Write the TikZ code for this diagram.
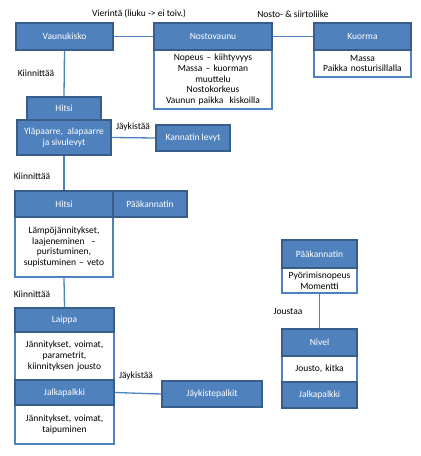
\documentclass[tikz,border=0pt]{standalone}
\usepackage{fontspec}
\setmainfont{Carlito}
\definecolor{hblue}{HTML}{4F81BD}
\definecolor{hborder}{HTML}{385D8A}
\begin{document}
\begin{tikzpicture}[x=1pt,y=-1pt,
  every node/.style={font=\fontsize{9.5}{10.8}\selectfont, inner sep=0pt, align=center},
  hdr/.style={fill=hblue, draw=hborder, line width=1.3pt, text=white, minimum width=#1},
  hdr/.default=97pt,
  bodybox/.style={fill=white, draw=hblue, line width=1.3pt, text=black, minimum width=#1, text width=#1-4pt},
  conn/.style={draw=hblue, line width=1.3pt},
  lbl/.style={text=black}]
\useasboundingbox (0,0) rectangle (421,456);
% top row
\node[hdr=97pt, minimum height=27pt] (vaunukisko) at (64.5,36.5) {Vaunukisko};
\node[bodybox=118pt, minimum height=59pt] (nvbody) at (213,79.5) {Nopeus -- kiihtyvyys\\Massa -- kuorman\\muuttelu\\Nostokorkeus\\Vaunun paikka\ \ kiskoilla};
\node[hdr=118pt, minimum height=27pt] (nostovaunu) at (213,36.5) {Nostovaunu};
\node[bodybox=97pt, minimum height=27pt] (kuormabody) at (362.5,63.5) {Massa\\Paikka nosturisillalla};
\node[hdr=97pt, minimum height=27pt] (kuorma) at (362.5,36.5) {Kuorma};
% Hitsi / Yläpaarre
\node[hdr=74pt, minimum height=23pt] (hitsi1) at (64,108.5) {Hitsi};
\node[hdr=94pt, minimum height=35pt] (ylapaarre) at (64,137.5) {Yläpaarre,\ \ alapaarre\\ja sivulevyt};
\node[hdr=74pt, minimum height=26pt] (kannatin) at (193,138) {Kannatin levyt};
% Hitsi big
\node[bodybox=98pt, minimum height=60pt] (hitsibody) at (64,247) {Lämpöjännitykset,\\laajeneminen\ \ --\\puristuminen,\\supistuminen -- veto};
\node[hdr=98pt, minimum height=26pt] (hitsi2) at (64,204) {Hitsi};
\node[hdr=74pt, minimum height=26pt] (paakannatin1) at (150,204) {Pääkannatin};
% Laippa / Jalkapalkki
\node[bodybox=99pt, minimum height=48pt] (laippabody) at (64.5,356) {Jännitykset,\ voimat,\\parametrit,\\kiinnityksen jousto};
\node[hdr=99pt, minimum height=24pt] (laippa) at (64.5,320) {Laippa};
\node[bodybox=99pt, minimum height=39pt] (jalkabody) at (64.5,424.5) {Jännitykset,\ voimat,\\taipuminen};
\node[hdr=99pt, minimum height=25pt] (jalkapalkki1) at (64.5,392.5) {Jalkapalkki};
\node[hdr=100pt, minimum height=26pt] (jaykistepalkit) at (212,394) {Jäykistepalkit};
% right column
\node[bodybox=75pt, minimum height=25pt] (paakbody) at (319.5,280.5) {Pyörimisnopeus\\Momentti};
\node[hdr=75pt, minimum height=28pt] (paakannatin2) at (319.5,254) {Pääkannatin};
\node[bodybox=75pt, minimum height=26pt] (nivelbody) at (319.5,369) {Jousto, kitka};
\node[hdr=75pt, minimum height=27pt] (nivel) at (319.5,342.5) {Nivel};
\node[hdr=75pt, minimum height=26pt] (jalkapalkki2) at (319.5,395) {Jalkapalkki};
% connectors
\draw[conn] (vaunukisko.east) -- (nostovaunu.west);
\draw[conn] (nostovaunu.east) -- (kuorma.west);
\draw[conn] (vaunukisko.south) -- (hitsi1.north);
\draw[conn] (ylapaarre.east) -- (kannatin.west);
\draw[conn] (ylapaarre.south) -- (hitsi2.north);
\draw[conn] (hitsibody.south) -- (laippa.north);
\draw[conn] (jalkapalkki1.east) -- (jaykistepalkit.west);
\draw[conn] (paakbody.south) -- (nivel.north);
% labels
\node[lbl] (l1) at (139,14) {Vierintä (liuku -> ei toiv.)};
\node[lbl] (l2) at (293,14) {Nosto-\ \& siirtoliike};
\node[lbl] (l3) at (36,73) {Kiinnittää};
\node[lbl] (l4) at (133,127) {Jäykistää};
\node[lbl] (l5) at (32,176) {Kiinnittää};
\node[lbl] (l6) at (32,294) {Kiinnittää};
\node[lbl] (l7) at (136,376) {Jäykistää};
\node[lbl] (l8) at (288,311) {Joustaa};
\end{tikzpicture}
\end{document}
